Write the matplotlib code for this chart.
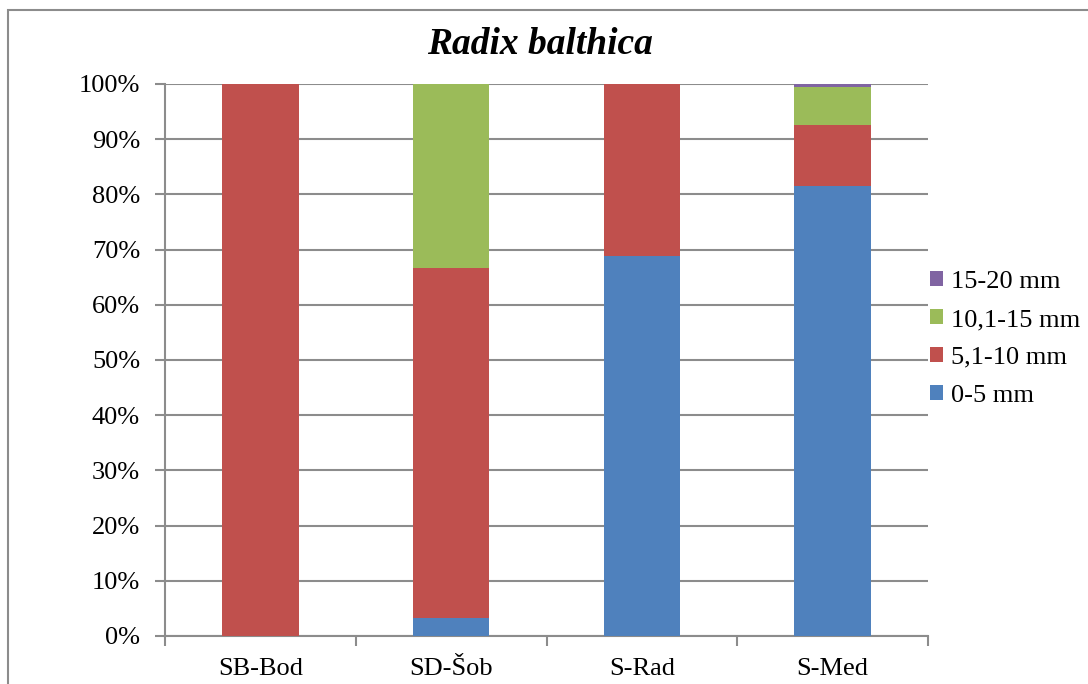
import matplotlib
matplotlib.use("Agg")
import matplotlib.pyplot as plt
import numpy as np
from matplotlib.patches import Rectangle
from matplotlib.ticker import FuncFormatter

categories = ["SB-Bod", "SD-Šob", "S-Rad", "S-Med"]
series_names = ["0-5 mm", "5,1-10 mm", "10,1-15 mm", "15-20 mm"]
s_0_5 = [0.0, 3.3, 68.8, 81.6]
s_5_10 = [100.0, 63.4, 31.2, 10.9]
s_10_15 = [0.0, 33.3, 0.0, 6.9]
s_15_20 = [0.0, 0.0, 0.0, 0.6]
colors = ["#4F81BD", "#C0504D", "#9BBB59", "#8064A2"]

plt.rcParams['font.family'] = ['Liberation Serif', 'DejaVu Serif']

W, H = 1088, 684
fig = plt.figure(figsize=(W/100, H/100), dpi=100)
ax = fig.add_axes([165/W, 1-636/H, (928-165)/W, (636-84)/H])

# outer frame
fig.patches.append(Rectangle((8/W, -0.1), 1.2, 1-10/H+0.1, transform=fig.transFigure,
                             fill=False, edgecolor="#8c8c8c", linewidth=1.5))

x = np.arange(len(categories))
bottom = np.zeros(len(categories))
handles = []
for vals, name, c in zip([s_0_5, s_5_10, s_10_15, s_15_20], series_names, colors):
    b = ax.bar(x, vals, width=0.4, bottom=bottom, color=c, label=name, zorder=3)
    handles.append(b)
    bottom += np.array(vals)

ax.set_xlim(-0.5, len(categories)-0.5)
ax.set_ylim(0, 100)
ax.set_yticks(np.arange(0, 101, 10))
ax.yaxis.set_major_formatter(FuncFormatter(lambda v, p: f"{int(v)}%"))
ax.set_xticks(x)
ax.set_xticklabels(categories)
ax.set_xticks(np.arange(-0.5, len(categories), 1), minor=True)
ax.tick_params(axis='x', which='major', length=0, labelsize=19, pad=16)
ax.tick_params(axis='x', which='minor', length=7, width=1.5, color="#8c8c8c")
ax.tick_params(axis='y', length=7, width=1.5, color="#8c8c8c", labelsize=19, pad=11)
ax.grid(axis='y', color="#8c8c8c", linewidth=1.5, zorder=0)
for s in ['top', 'right']:
    ax.spines[s].set_visible(False)
for s in ['left', 'bottom']:
    ax.spines[s].set_color("#8c8c8c")
    ax.spines[s].set_linewidth(1.5)

fig.text(540/W, 1-45/H, "Radix balthica", ha='center', va='center', fontsize=27,
         fontweight='bold', fontstyle='italic')

leg = fig.legend(handles[::-1], series_names[::-1], loc='center left',
                 bbox_to_anchor=(930/W, 1-339/H), frameon=False, fontsize=19,
                 handlelength=0.5, handleheight=0.5, handletextpad=0.3,
                 labelspacing=0.6, borderpad=0, borderaxespad=0)

fig.savefig("out.png", dpi=100)
